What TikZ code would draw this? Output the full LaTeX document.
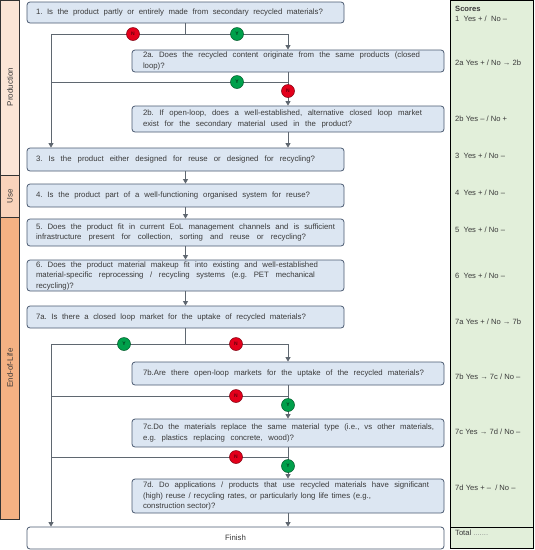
\documentclass[tikz,border=0pt]{standalone}
\usepackage{fontspec}
\setmainfont{Liberation Sans}
\usetikzlibrary{arrows.meta}
\frenchspacing
\hbadness=10000
\newcommand{\fitline}[2]{\hbox to #1pt{\spaceskip=0.28em plus 1em minus 0.08em\xspaceskip=0pt #2}\par}
\newcommand{\natline}[1]{\hbox{\spaceskip=0.28em\xspaceskip=0pt #1}\par}
\definecolor{boxfill}{HTML}{DCE6F2}
\definecolor{boxline}{HTML}{4A5A70}
\definecolor{connc}{HTML}{5F6770}
\definecolor{ynred}{HTML}{E3001B}
\definecolor{yngreen}{HTML}{00A04B}
\definecolor{peachlight}{HTML}{FBE5D6}
\definecolor{peachmid}{HTML}{F9D3BB}
\definecolor{peachdark}{HTML}{F4B183}
\definecolor{scorefill}{HTML}{E2EFDA}
\definecolor{txt}{HTML}{3A3A3A}
\tikzset{
  qbox/.style={draw=boxline, line width=0.8pt, fill=boxfill, rounded corners=3pt,
    inner xsep=0pt, inner ysep=0pt, font=\fontsize{7.8}{10.5}\selectfont, text=txt, align=left},
  mainbox/.style={qbox, minimum width=317pt, text width=299pt},
  subbox/.style={qbox, minimum width=312pt, text width=290pt},
  conn/.style={draw=connc, line width=0.9pt},
  arr/.style={conn, -{Triangle[length=4.5pt,width=5pt]}},
  yes/.style={circle, fill=yngreen, draw=yngreen!55!black, line width=0.5pt, minimum size=13pt,
    inner sep=0pt, font=\fontsize{5}{5}\selectfont\bfseries, text=yngreen!35!black},
  no/.style={circle, fill=ynred, draw=ynred!55!black, line width=0.5pt, minimum size=13pt,
    inner sep=0pt, font=\fontsize{5}{5}\selectfont\bfseries, text=ynred!45!black},
  score/.style={anchor=west, inner sep=0pt, font=\fontsize{7.6}{9}\selectfont, text=txt},
  side/.style={rotate=90, inner sep=0pt, font=\fontsize{8}{10}\selectfont, text=txt},
}
\begin{document}
\begin{tikzpicture}[x=1pt,y=-1pt]
\useasboundingbox (0,0) rectangle (535,550);
% side bar
\draw[fill=peachlight, draw=black!80, line width=0.8pt] (0.4,0.4) rectangle (19.5,175);
\draw[fill=peachmid, draw=black!80, line width=0.8pt] (0.4,175) rectangle (19.5,217);
\draw[fill=peachdark, draw=black!80, line width=0.8pt] (0.4,217) rectangle (19.5,519);
\node[side] (sprod) at (10,87) {Production};
\node[side] (suse) at (10,196) {Use};
\node[side] (seol) at (10,368) {End-of-Life};
% scores panel
\draw[fill=scorefill, draw=black, line width=0.9pt] (450,0.5) rectangle (533.5,548.5);
\draw[black, line width=0.9pt] (450,527) -- (533.5,527);
\node[score, font=\fontsize{7.6}{9}\selectfont\bfseries] (sc0) at (455,9) {Scores};
\node[score] (sc1) at (455,18.5) {1\ \ Yes +\ /\ \ No –};
\node[score] (sc2a) at (455,63) {2a Yes + / No → 2b};
\node[score] (sc2b) at (455,119) {2b Yes – / No +};
\node[score] (sc3) at (455,156) {3\ \ Yes + / No –};
\node[score] (sc4) at (455,193) {4\ \ Yes + / No –};
\node[score] (sc5) at (455,230) {5\ \ Yes + / No –};
\node[score] (sc6) at (455,276) {6\ \ Yes + / No –};
\node[score] (sc7a) at (455,322) {7a Yes + / No → 7b};
\node[score] (sc7b) at (455,377) {7b Yes → 7c / No –};
\node[score] (sc7c) at (455,432) {7c Yes → 7d / No –};
\node[score] (sc7d) at (455,488) {7d Yes + –\ \ / No –};
\node[score] (sctot) at (455,533) {Total {\color{black!45}.......}};
% boxes
\node[mainbox, minimum height=21pt] (b1) at (185.5,12.5) {\fitline{287}{1. Is the product partly or entirely made from secondary recycled materials?}};
\node[subbox, minimum height=22pt] (b2a) at (288,61) {\fitline{277}{2a. Does the recycled content originate from the same products (closed}\natline{loop)?}};
\node[subbox, minimum height=26pt] (b2b) at (288,119) {\fitline{279}{2b. If open-loop, does a well-established, alternative closed loop market}\fitline{209}{exist for the secondary material used in the product?}};
\node[mainbox, minimum height=23pt] (b3) at (185.5,159.5) {\fitline{279}{3. Is the product either designed for reuse or designed for recycling?}};
\node[mainbox, minimum height=23pt] (b4) at (185.5,195.5) {\fitline{274}{4. Is the product part of a well-functioning organised system for reuse?}};
\node[mainbox, minimum height=27pt] (b5) at (185.5,232.5) {\fitline{299}{5. Does the product fit in current EoL management channels and is sufficient}\fitline{270}{infrastructure present for collection, sorting and reuse or recycling?}};
\node[mainbox, minimum height=31pt] (b6) at (185.5,275.5) {\fitline{282}{6. Does the product material makeup fit into existing and well-established}\fitline{279}{material-specific reprocessing / recycling systems (e.g. PET mechanical}\natline{recycling)?}};
\node[mainbox, minimum height=22pt] (b7a) at (185.5,317) {\fitline{270}{7a. Is there a closed loop market for the uptake of recycled materials?}};
\node[subbox, minimum height=23pt] (b7b) at (288,373.5) {\fitline{281}{7b.Are there open-loop markets for the uptake of the recycled materials?}};
\node[subbox, minimum height=28pt] (b7c) at (288,433) {\fitline{291}{7c.Do the materials replace the same material type (i.e., vs other materials,}\fitline{151}{e.g. plastics replacing concrete, wood)?}};
\node[subbox, minimum height=34pt] (b7d) at (288,496) {\fitline{286}{7d. Do applications / products that use recycled materials have significant}\fitline{228}{(high) reuse / recycling rates, or particularly long life times (e.g.,}\natline{construction sector)?}};
\node[qbox, fill=white, minimum width=417pt, minimum height=22pt, align=center] (fin) at (235.5,538) {Finish};
% junction coordinates
\coordinate (j1) at (185.5,34);
\coordinate (l1) at (51,34);
\coordinate (r1) at (288,34);
\coordinate (r2) at (288,82);
\coordinate (l2) at (51,82);
\coordinate (j7) at (185.5,344);
\coordinate (l7) at (51,344);
\coordinate (r7) at (288,344);
\coordinate (r8) at (288,396);
\coordinate (l8) at (51,396);
\coordinate (r9) at (288,457);
\coordinate (l9) at (51,457);
% connectors
\draw[conn] (b1.south) -- (j1);
\draw[conn] (l1) -- (r1);
\draw[arr] (r1) -- (b2a.north);
\draw[arr] (l1) -- (l1 |- b3.north);
\draw[conn] (b2a.south) -- (r2) -- (l2);
\draw[arr] (r2) -- (b2b.north);
\draw[arr] (b2b.south) -- (b2b.south |- b3.north);
\draw[arr] (b3.south) -- (b4.north);
\draw[arr] (b4.south) -- (b5.north);
\draw[arr] (b5.south) -- (b6.north);
\draw[arr] (b6.south) -- (b7a.north);
\draw[conn] (b7a.south) -- (j7);
\draw[conn] (l7) -- (r7);
\draw[arr] (r7) -- (b7b.north);
\draw[arr] (l7) -- (l7 |- fin.north);
\draw[conn] (b7b.south) -- (r8) -- (l8);
\draw[arr] (r8) -- (b7c.north);
\draw[conn] (b7c.south) -- (r9) -- (l9);
\draw[arr] (r9) -- (b7d.north);
\draw[arr] (b7d.south) -- (b7d.south |- fin.north);
% yes / no markers
\node[no] (n1) at (133,34) {N};
\node[yes] (y1) at (237,34) {Y};
\node[yes] (y2) at (237,82) {Y};
\node[no] (n2) at (288,91) {N};
\node[yes] (y7) at (124,344) {Y};
\node[no] (n7) at (236,344) {N};
\node[no] (n8) at (236,396) {N};
\node[yes] (y8) at (288,405) {Y};
\node[no] (n9) at (236,457) {N};
\node[yes] (y9) at (288,466) {Y};
\end{tikzpicture}
\end{document}
